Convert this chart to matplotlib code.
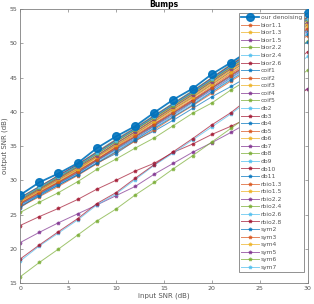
import matplotlib
matplotlib.use('Agg')
import matplotlib.pyplot as plt

plt.rcParams['font.family'] = ['DejaVu Sans']

# input SNR values
snr_in = [0, 2, 4, 6, 8, 10, 12, 14, 16, 18, 20, 22, 24, 26, 28, 30]

our = [27.85, 29.7, 31.0, 32.5, 34.7, 36.4, 37.9, 39.9, 41.8, 43.4, 45.5, 47.2, 49.0, 50.9, 52.7, 54.4]

wavelet_names = ['bior1.1', 'bior1.3', 'bior1.5', 'bior2.2', 'bior2.4', 'bior2.6',
                 'coif1', 'coif2', 'coif3', 'coif4', 'coif5',
                 'db2', 'db3', 'db4', 'db5', 'db6', 'db7', 'db8', 'db9', 'db10', 'db11',
                 'rbio1.3', 'rbio1.5', 'rbio2.2', 'rbio2.4', 'rbio2.6', 'rbio2.8',
                 'sym2', 'sym3', 'sym4', 'sym5', 'sym6', 'sym7']

bior11 = [26.7, 28.3, 29.8, 31.4, 33.1, 34.9, 36.6, 38.3, 40.1, 41.8, 43.7, 45.6, 47.3, 49.1, 50.7, 52.3]
bior13 = [27.0, 28.6, 30.2, 31.7, 33.5, 35.3, 37.0, 38.8, 40.5, 42.3, 44.2, 46.1, 47.9, 49.6, 51.3, 52.9]
bior15 = [26.4, 27.9, 29.5, 31.0, 32.8, 34.5, 36.1, 37.9, 39.6, 41.4, 43.2, 45.0, 46.8, 48.5, 50.2, 51.7]
bior22 = [25.3, 26.8, 28.2, 29.8, 31.6, 33.1, 34.7, 36.2, 38.0, 39.8, 41.3, 43.2, 44.9, 46.7, 48.6, 50.3]
bior24 = [26.9, 28.5, 30.0, 31.6, 33.4, 35.2, 36.8, 38.6, 40.4, 42.2, 44.0, 45.9, 47.7, 49.5, 51.1, 52.7]
bior26 = [23.4, 24.7, 25.9, 27.2, 28.7, 30.0, 31.35, 32.5, 34.1, 35.3, 36.7, 37.9, 39.2, 40.6, 41.9, 43.3]
coif1 = [26.0, 27.9, 29.3, 30.8, 32.5, 33.9, 35.8, 37.2, 38.8, 40.5, 42.2, 43.7, 45.3, 47.0, 48.6, 50.2]
coif2 = [27.4, 29.0, 30.6, 32.2, 34.0, 35.8, 37.5, 39.4, 41.2, 43.0, 44.9, 46.8, 48.6, 50.4, 52.1, 53.7]
coif3 = [27.5, 29.1, 30.7, 32.3, 34.2, 36.0, 37.7, 39.5, 41.3, 43.1, 45.0, 47.0, 48.8, 50.6, 52.3, 53.9]
coif4 = [27.3, 28.9, 30.5, 32.1, 33.9, 35.7, 37.4, 39.2, 41.0, 42.8, 44.7, 46.6, 48.4, 50.2, 51.9, 53.5]
coif5 = [27.1, 28.7, 30.3, 31.9, 33.6, 35.4, 37.1, 38.9, 40.7, 42.5, 44.4, 46.3, 48.0, 49.8, 51.5, 53.1]
db2 = [26.3, 27.8, 29.4, 30.9, 32.6, 34.4, 36.0, 37.7, 39.5, 41.2, 43.0, 44.9, 46.6, 48.3, 50.0, 51.5]
db3 = [26.6, 28.2, 29.7, 31.3, 33.0, 34.8, 36.4, 38.2, 39.9, 41.7, 43.5, 45.4, 47.1, 48.9, 50.6, 52.1]
db4 = [26.5, 28.0, 29.6, 31.1, 32.9, 34.6, 36.3, 38.0, 39.8, 41.5, 43.4, 45.2, 47.0, 48.7, 50.4, 51.9]
db5 = [26.9, 28.5, 30.1, 31.6, 33.4, 35.1, 36.8, 38.6, 40.4, 42.1, 44.0, 45.9, 47.7, 49.4, 51.1, 52.7]
db6 = [27.2, 28.8, 30.4, 32.0, 33.8, 35.6, 37.3, 39.1, 40.8, 42.6, 44.5, 46.4, 48.2, 50.0, 51.7, 53.3]
db7 = [27.3, 28.9, 30.5, 32.1, 33.9, 35.7, 37.4, 39.2, 41.0, 42.8, 44.7, 46.6, 48.4, 50.2, 51.9, 53.5]
db8 = [27.4, 29.0, 30.6, 32.2, 34.0, 35.8, 37.5, 39.4, 41.2, 43.0, 44.9, 46.8, 48.6, 50.4, 52.1, 53.7]
db9 = [27.5, 29.1, 30.7, 32.3, 34.2, 36.0, 37.7, 39.5, 41.3, 43.1, 45.0, 47.0, 48.8, 50.6, 52.3, 53.9]
db10 = [27.45, 29.05, 30.7, 32.3, 34.1, 35.9, 37.6, 39.4, 41.2, 43.0, 44.95, 46.85, 48.7, 50.5, 52.2, 53.8]
db11 = [27.35, 28.95, 30.55, 32.15, 33.95, 35.75, 37.5, 39.3, 41.1, 42.9, 44.8, 46.7, 48.5, 50.3, 52.0, 53.6]
rbio13 = [26.1, 27.6, 29.1, 30.7, 32.4, 34.1, 35.7, 37.4, 39.2, 40.9, 42.7, 44.5, 46.2, 48.0, 49.6, 51.1]
rbio15 = [26.8, 28.4, 29.9, 31.5, 33.3, 35.0, 36.7, 38.5, 40.2, 42.0, 43.9, 45.7, 47.5, 49.3, 50.9, 52.5]
rbio22 = [20.9, 22.4, 23.8, 25.1, 26.4, 27.75, 29.1, 30.9, 32.5, 34.1, 35.5, 37.0, 38.6, 40.1, 41.8, 43.4]
rbio24 = [15.9, 18.0, 19.96, 22.0, 24.05, 25.8, 27.85, 29.7, 31.7, 33.6, 35.6, 37.6, 39.6, 41.8, 44.0, 46.1]
rbio26 = [18.2, 20.4, 22.3, 24.2, 26.4, 28.0, 30.1, 32.2, 34.0, 35.9, 37.8, 39.7, 41.8, 43.9, 45.9, 48.1]
rbio28 = [18.5, 20.55, 22.5, 24.4, 26.6, 28.2, 30.3, 32.3, 34.2, 36.1, 38.1, 39.9, 42.1, 44.3, 46.5, 48.8]
sym2 = [26.2, 27.7, 29.3, 30.8, 32.5, 34.2, 35.9, 37.6, 39.3, 41.0, 42.9, 44.7, 46.4, 48.2, 49.8, 51.3]
sym3 = [26.6, 28.1, 29.7, 31.2, 33.0, 34.7, 36.4, 38.1, 39.9, 41.6, 43.5, 45.3, 47.1, 48.8, 50.5, 52.1]
sym4 = [27.0, 28.6, 30.2, 31.7, 33.5, 35.3, 37.0, 38.8, 40.5, 42.3, 44.2, 46.1, 47.9, 49.6, 51.3, 52.9]
sym5 = [27.1, 28.7, 30.3, 31.9, 33.6, 35.4, 37.1, 38.9, 40.7, 42.5, 44.4, 46.3, 48.0, 49.8, 51.5, 53.1]
sym6 = [27.25, 28.85, 30.45, 32.05, 33.85, 35.65, 37.35, 39.15, 40.9, 42.7, 44.6, 46.5, 48.3, 50.1, 51.8, 53.4]
sym7 = [27.35, 28.95, 30.55, 32.15, 33.95, 35.75, 37.5, 39.3, 41.1, 42.9, 44.8, 46.7, 48.5, 50.3, 52.0, 53.6]

wavelet_values = [bior11, bior13, bior15, bior22, bior24, bior26,
                  coif1, coif2, coif3, coif4, coif5,
                  db2, db3, db4, db5, db6, db7, db8, db9, db10, db11,
                  rbio13, rbio15, rbio22, rbio24, rbio26, rbio28,
                  sym2, sym3, sym4, sym5, sym6, sym7]

# matlab default color order
mcolors = ['#0072BD', '#D95319', '#EDB120', '#7E2F8E', '#77AC30', '#4DBEEE', '#A2142F']

fig = plt.figure(figsize=(3.14, 3.04), dpi=100)
ax = fig.add_axes([0.064, 0.069, 0.916, 0.901])

ax.plot(snr_in, our, '-o', color=mcolors[0], lw=1.3, ms=5.5, alpha=0.9,
        label='our denoising', zorder=5)
for i, (name, vals) in enumerate(zip(wavelet_names, wavelet_values)):
    c = mcolors[(i + 1) % 7]
    ax.plot(snr_in, vals, '-*', color=c, lw=0.7, ms=2.5, alpha=0.7, label=name)

ax.set_xlim(0, 30)
ax.set_ylim(15, 55)
ax.set_xticks(range(0, 31, 5))
ax.set_yticks(range(15, 56, 5))

for s in ax.spines.values():
    s.set_color('#808080')
    s.set_linewidth(0.6)
ax.tick_params(direction='in', length=2.5, width=0.5, labelsize=4.5,
               colors='#808080', labelcolor='#555555', top=True, right=True, pad=2)
ax.set_xlabel('input SNR (dB)', fontsize=5, color='#555555', labelpad=1)
ax.set_ylabel('output SNR (dB)', fontsize=5, color='#555555', labelpad=1)
ax.set_title('Bumps', fontsize=5.5, fontweight='bold', pad=1.5)

leg = ax.legend(loc='upper right', bbox_to_anchor=(0.987, 0.985), fontsize=4.3,
                handlelength=2.9, labelspacing=0.4, borderpad=0.3,
                handletextpad=0.4, borderaxespad=0, fancybox=False,
                framealpha=1, edgecolor='#808080')
leg.get_frame().set_linewidth(0.6)
for t in leg.get_texts():
    t.set_color('#555555')

fig.savefig('out.png', dpi=100)
